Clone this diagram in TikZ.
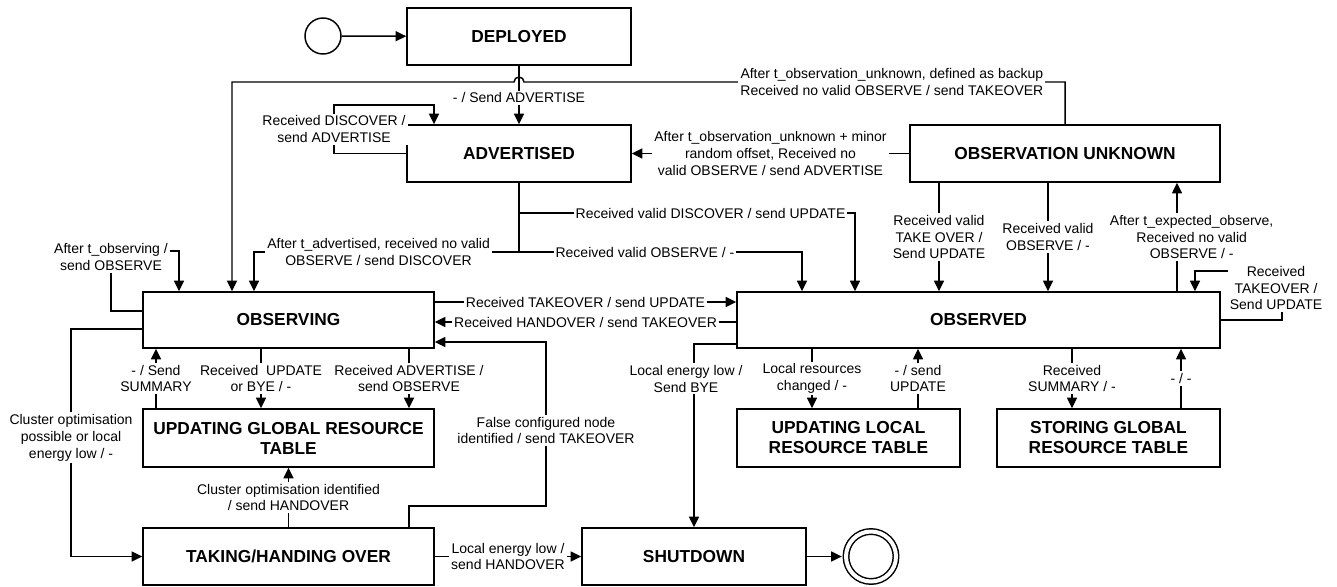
\documentclass[tikz,border=0pt]{standalone}
\usepackage{fontspec}
\setmainfont{Liberation Sans}
\usetikzlibrary{arrows.meta}

\tikzset{
  state/.style={draw, line width=1.1pt, rectangle, align=center, inner sep=2pt,
    font=\fontsize{13pt}{15pt}\selectfont\bfseries},
  lbl/.style={fill=white, align=center, inner sep=1.5pt,
    font=\fontsize{10.5pt}{12.6pt}\selectfont},
  arr/.style={line width=1.1pt, -{Triangle[length=8pt,width=7.5pt]}},
  wire/.style={line width=1.1pt}
}

\begin{document}
\begin{tikzpicture}[x=0.75pt, y=-0.75pt]
  \useasboundingbox (0,0) rectangle (1337,586);

  % States
  \node [circle, draw, line width=1.1pt, minimum size=27pt, inner sep=0pt] (start) at (323,36) {};
  \node [state, minimum width=168pt, minimum height=42.75pt] (deployed) at (519,36.5) {DEPLOYED};
  \node [state, minimum width=168pt, minimum height=42.75pt] (advertised) at (519,153.5) {ADVERTISED};
  \node [state, minimum width=232.5pt, minimum height=42.75pt] (obsunknown) at (1065,153.5) {OBSERVATION UNKNOWN};
  \node [state, minimum width=218.25pt, minimum height=42pt] (observing) at (288.5,320) {OBSERVING};
  \node [state, minimum width=362.25pt, minimum height=42pt] (observed) at (978.5,320) {OBSERVED};
  \node [state, minimum width=218.25pt, minimum height=43.5pt] (updglobal) at (288.5,438) {UPDATING GLOBAL RESOURCE\\TABLE};
  \node [state, minimum width=167.25pt, minimum height=43.5pt] (updlocal) at (848.5,438) {UPDATING LOCAL\\RESOURCE TABLE};
  \node [state, minimum width=167.25pt, minimum height=43.5pt] (storeglobal) at (1108.5,438) {STORING GLOBAL\\RESOURCE TABLE};
  \node [state, minimum width=218.25pt, minimum height=42.75pt] (taking) at (288.5,556.5) {TAKING/HANDING OVER};
  \node [state, minimum width=168pt, minimum height=42.75pt] (shutdown) at (694,556.5) {SHUTDOWN};
  \node [circle, draw, line width=1.1pt, double, double distance=3pt, minimum size=37.5pt, inner sep=0pt] (final) at (871,556.5) {};

  % Top part
  \draw [arr] (start) -- (deployed);
  \draw [arr] (deployed) -- node [lbl, pos=0.55] (lsendadv) {- / Send ADVERTISE} (advertised);
  \draw [arr] (obsunknown.north) -- (obsunknown.north |- 0,82)
    -- node [lbl, pos=0.32] (lbackup) {After t\_observation\_unknown, defined as backup\\Received no valid OBSERVE / send TAKEOVER} (524,82)
    arc [start angle=0, end angle=180, radius=3.75pt] -- (232,82) -- (232,0 |- observing.north);
  \draw [arr] (obsunknown) -- node [lbl] (lminor) {After t\_observation\_unknown + minor\\random offset, Received no\\valid OBSERVE / send ADVERTISE} (advertised);
  \draw [arr] (advertised.west) -- (334,0 |- advertised.west)
    -- node [lbl] (ldiscover) {Received DISCOVER /\\send ADVERTISE} (334,105) -- (434,105) -- (434,0 |- advertised.north);

  % Leaving ADVERTISED
  \coordinate (advsplit) at (advertised.south |- 0,252);
  \coordinate (advupd) at (advertised.south |- 0,213);
  \draw [wire] (advertised.south) -- (advsplit);
  \draw [arr] (advupd) -- node [lbl, pos=0.57] (lvaliddisc) {Received valid DISCOVER / send UPDATE} (855,213) -- (855,0 |- observed.north);
  \draw [arr] (advsplit) -- node [lbl, pos=0.53] (ladvtime) {After t\_advertised, received no valid\\OBSERVE / send DISCOVER} (254,252) -- (254,0 |- observing.north);
  \draw [arr] (advsplit) -- node [lbl, pos=0.445] (lvalidobs) {Received valid OBSERVE / -} (802,252) -- (802,0 |- observed.north);

  % Around OBSERVATION UNKNOWN
  \draw [arr] (939,0 |- obsunknown.south) -- node [lbl] (ltake) {Received valid\\TAKE OVER /\\Send UPDATE} (939,0 |- observed.north);
  \draw [arr] (1048,0 |- obsunknown.south) -- node [lbl] (lvalidobs2) {Received valid\\OBSERVE / -} (1048,0 |- observed.north);
  \draw [arr] (1177,0 |- observed.north) -- node [lbl, xshift=11pt] (lexpected) {After t\_expected\_observe,\\Received no valid\\OBSERVE / -} (1177,0 |- obsunknown.south);
  \draw [arr] (observed.east) -- (1282,320)
    -- node [lbl, pos=0.65, xshift=-4.5pt] (lrectake) {Received\\TAKEOVER /\\Send UPDATE} (1282,271) -- (1195,271) -- (1195,0 |- observed.north);

  % OBSERVING and OBSERVED
  \draw [arr] (observing.east |- 0,302) -- node [lbl] (ltakeover) {Received TAKEOVER / send UPDATE} (observed.west |- 0,302);
  \draw [arr] (observed.west |- 0,322) -- node [lbl] (lhandover) {Received HANDOVER / send TAKEOVER} (observing.east |- 0,322);
  \draw [arr] (observing.west |- 0,311) -- (111,311)
    -- node [lbl, pos=0.9] (lobserving) {After t\_observing /\\send OBSERVE} (111,251) -- (179,251) -- (179,0 |- observing.north);
  \draw [arr] (observing.west |- 0,329) -- (71,329)
    -- node [lbl, pos=0.478] (lcluster) {Cluster optimisation\\possible or local\\energy low / -} (71,0 |- taking.west) -- (taking.west);

  % Global resource table
  \draw [arr] (156,0 |- updglobal.north) -- node [lbl] (lsummary) {- / Send\\SUMMARY} (156,0 |- observing.south);
  \draw [arr] (261,0 |- observing.south) -- node [lbl] (lupdate) {Received\ \ UPDATE\\or BYE / -} (261,0 |- updglobal.north);
  \draw [arr] (409,0 |- observing.south) -- node [lbl] (ladvertise) {Received ADVERTISE /\\send OBSERVE} (409,0 |- updglobal.north);

  % Taking/handing over
  \draw [arr] (taking.north) -- node [lbl] (lidentified) {Cluster optimisation identified\\/ send HANDOVER} (updglobal.south);
  \draw [arr] (409,0 |- taking.north) -- (409,506) -- (546,506)
    -- node [lbl, pos=0.46] (lfalse) {False configured node\\identified / send TAKEOVER} (546,342) -- (observing.east |- 0,342);
  \draw [arr] (taking) -- node [lbl] (lenergy) {Local energy low /\\send HANDOVER} (shutdown);
  \draw [arr, shorten >=2.6pt] (shutdown) -- (final);

  % Below OBSERVED
  \draw [arr] (observed.west |- 0,344) -- (694,344) -- node [lbl, pos=0.19, xshift=-6pt] (lbye) {Local energy low /\\Send BYE} (shutdown.north);
  \draw [arr] (812,0 |- observed.south) -- node [lbl] (lchanged) {Local resources\\changed / -} (812,0 |- updlocal.north);
  \draw [arr] (918,0 |- updlocal.north) -- node [lbl] (lsendupd) {- / send\\UPDATE} (918,0 |- observed.south);
  \draw [arr] (1072,0 |- observed.south) -- node [lbl] (lrecsum) {Received\\SUMMARY / -} (1072,0 |- storeglobal.north);
  \draw [arr] (1181,0 |- storeglobal.north) -- node [lbl] (lnone) {- / -} (1181,0 |- observed.south);
\end{tikzpicture}
\end{document}
